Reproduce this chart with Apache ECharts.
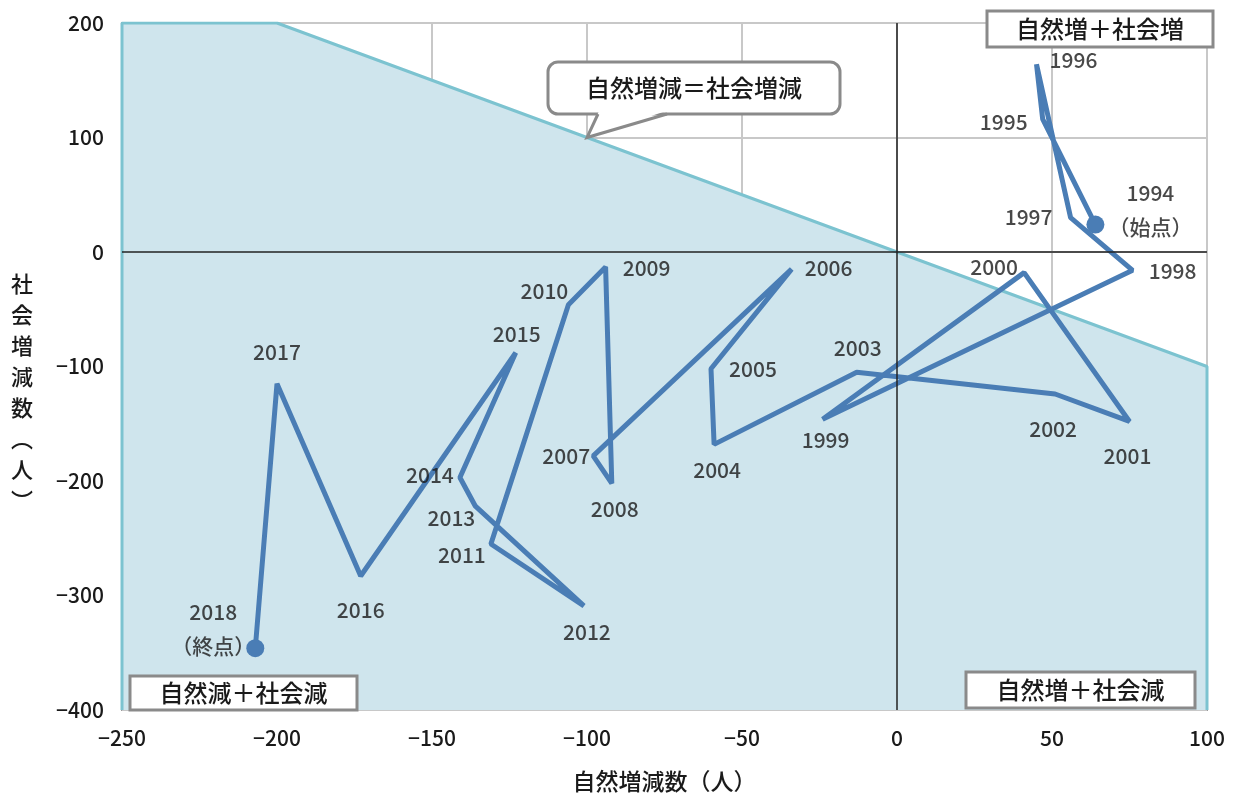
<!DOCTYPE html>
<html>
<head>
<meta charset="utf-8">
<script src="https://cdn.jsdelivr.net/npm/echarts@6/dist/echarts.min.js"></script>
<style>
  html, body { margin: 0; padding: 0; background: #fff; }
  #main { width: 1234px; height: 798px; }
</style>
</head>
<body>
<div id="main"></div>
<script>
// 自然増減数・社会増減数（人）
var years = [1994, 1995, 1996, 1997, 1998, 1999, 2000, 2001, 2002, 2003, 2004, 2005, 2006,
  2007, 2008, 2009, 2010, 2011, 2012, 2013, 2014, 2015, 2016, 2017, 2018];
var natural = [64, 47, 45, 56, 76, -24, 41, 75, 51, -13, -59, -60, -34,
  -98, -92, -94, -106, -131, -101, -136, -141, -123, -173, -200, -207];
var social = [24, 116, 164, 30, -16, -146, -18, -148, -124, -105, -168, -102, -15,
  -178, -202, -13, -46, -255, -309, -222, -197, -88, -283, -115, -346];
// 自然増減＝社会増減 の境界（塗り範囲）
var boundaryX = [-250, -250, -200, 100, 100];
var boundaryY = [-400, 200, 200, -100, -400];
var xTicks = [-250, 50, 100];   // min, interval, max
var yTicks = [-400, 100, 200];

// label offsets (px) per year
var labelOffset = {
  1994: [55, -15], 1995: [-39, 3], 1996: [37, -4], 1997: [-42, -1], 1998: [40, 1],
  1999: [3, 21], 2000: [-30, -6], 2001: [-2, 35], 2002: [-2, 35], 2003: [1, -24],
  2004: [3, 26], 2005: [42, 0], 2006: [37, -1], 2007: [-27, 0], 2008: [3, 26],
  2009: [41, 1], 2010: [-24, -14], 2011: [-29, 11], 2012: [3, 26], 2013: [-24, 12],
  2014: [-30, -3], 2015: [1, -19], 2016: [0, 34], 2017: [0, -32], 2018: [-42, -19]
};

var FONT = '"Noto Sans CJK JP", "Noto Sans", sans-serif';
var TEXT = '#1a1a1a';
var lineColor = '#4a7db5';

var chart = echarts.init(document.getElementById('main'));

var pathData = natural.map(function (x, i) { return [x, social[i]]; });
var labelData = pathData.map(function (p, i) {
  var y = years[i];
  var txt = String(y);
  if (i === 0) txt += '\n（始点）';
  if (i === years.length - 1) txt += '\n（終点）';
  return {
    value: p,
    label: { show: true, formatter: txt, offset: labelOffset[y] }
  };
});
var last = pathData.length - 1;

function minus(v) { return String(v).replace('-', '−'); }

var option = {
  animation: false,
  grid: {
    left: 122, right: 27, top: 23, bottom: 85,
    show: true, borderColor: '#9a9a9a', borderWidth: 2, backgroundColor: '#fff'
  },
  xAxis: {
    type: 'value', min: xTicks[0], max: xTicks[2], interval: xTicks[1],
    name: '自然増減数（人）', nameLocation: 'middle', nameGap: 60,
    nameTextStyle: { fontFamily: FONT, fontSize: 23, fontWeight: 500, color: TEXT },
    axisLine: { show: false }, axisTick: { show: false },
    axisLabel: { margin: 18, fontSize: 21, fontWeight: 500, color: TEXT, fontFamily: FONT, formatter: minus },
    splitLine: { show: true, lineStyle: { color: '#c8c8c8', width: 2 } }
  },
  yAxis: {
    type: 'value', min: yTicks[0], max: yTicks[2], interval: yTicks[1],
    axisLine: { show: false }, axisTick: { show: false },
    axisLabel: { margin: 18, fontSize: 21, fontWeight: 500, color: TEXT, fontFamily: FONT, formatter: minus },
    splitLine: { show: true, lineStyle: { color: '#c8c8c8', width: 2 } }
  },
  series: [
    {
      type: 'line',
      data: boundaryX.map(function (x, i) { return [x, boundaryY[i]]; }),
      showSymbol: false,
      lineStyle: { color: '#7cc3d0', width: 3 },
      areaStyle: { color: '#cfe5ed', origin: 'start', opacity: 1 },
      z: 1,
      markLine: {
        silent: true, symbol: 'none', label: { show: false },
        lineStyle: { color: '#222', width: 1.5, type: 'solid' },
        data: [{ xAxis: 0 }, { yAxis: 0 }]
      }
    },
    {
      type: 'line',
      data: pathData,
      showSymbol: false,
      lineStyle: { color: lineColor, width: 5 },
      z: 3
    },
    {
      type: 'scatter',
      data: [pathData[0], pathData[last]],
      symbolSize: 18,
      itemStyle: { color: lineColor, opacity: 1 },
      z: 4
    },
    {
      type: 'scatter',
      data: labelData,
      symbolSize: 1,
      itemStyle: { color: 'transparent' },
      label: {
        show: true, position: 'inside', color: TEXT, fontWeight: 500,
        fontSize: 21, fontFamily: FONT, lineHeight: 34, align: 'center'
      },
      z: 5
    }
  ]
};
chart.setOption(option);

function box(x, y, w, h, text) {
  return [
    { type: 'rect', z: 100, shape: { x: x, y: y, width: w, height: h },
      style: { fill: '#fff', stroke: '#8a8a8a', lineWidth: 3 } },
    { type: 'text', z: 101, x: x + w / 2, y: y + h / 2,
      style: { text: text, font: '500 24px ' + FONT, fill: TEXT, align: 'center', verticalAlign: 'middle' } }
  ];
}

var tip = chart.convertToPixel({ gridIndex: 0 }, [-100, 100]);
var bx0 = 548, by0 = 62, bx1 = 840, by1 = 114;

var graphics = [].concat(
  box(987, 11, 226, 36, '自然増＋社会増'),
  box(130, 676, 227, 34, '自然減＋社会減'),
  box(966, 672, 229, 36, '自然増＋社会減'),
  [
    { type: 'rect', z: 100, shape: { x: bx0, y: by0, width: bx1 - bx0, height: by1 - by0, r: 10 },
      style: { fill: '#fff', stroke: '#8a8a8a', lineWidth: 3 } },
    { type: 'polygon', z: 101, shape: { points: [[599, by1 - 3], [666, by1 - 3], tip] },
      style: { fill: '#fff' } },
    { type: 'polyline', z: 102, shape: { points: [[598, by1], tip, [667, by1]] },
      style: { stroke: '#8a8a8a', lineWidth: 3, fill: null } },
    { type: 'text', z: 103, x: (bx0 + bx1) / 2, y: (by0 + by1) / 2,
      style: { text: '自然増減＝社会増減', font: '500 24px ' + FONT, fill: TEXT, align: 'center', verticalAlign: 'middle' } },
    { type: 'text', z: 101, x: 22, y: 268,
      style: { text: '社\n会\n増\n減\n数\n︵\n人\n︶', font: '500 22px ' + FONT, fill: TEXT,
        align: 'center', verticalAlign: 'top', lineHeight: 31 } }
  ]
);

chart.setOption({ graphic: graphics });
</script>
</body>
</html>
